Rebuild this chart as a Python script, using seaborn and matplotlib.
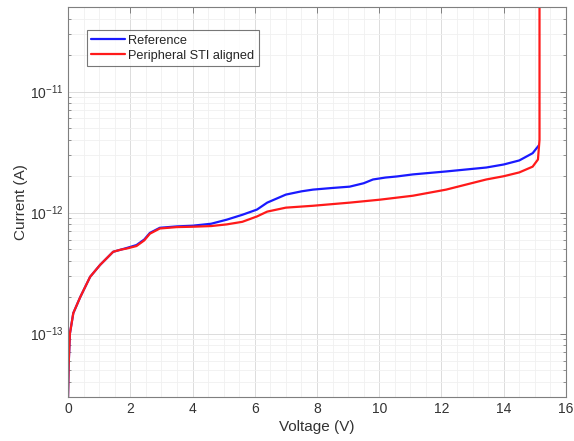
import numpy as np
import pandas as pd
import matplotlib
matplotlib.use("Agg")
import matplotlib.pyplot as plt
import seaborn as sns
from matplotlib.ticker import FixedLocator, MultipleLocator, NullFormatter

# Data
v_ref = [0.0, 0.02, 0.06, 0.17, 0.39, 0.71, 1.03, 1.45, 1.7, 1.88, 2.2, 2.45, 2.63, 2.95,
         3.5, 4.0, 4.6, 5.1, 5.6, 6.07, 6.4, 7.0, 7.5, 7.87, 8.5, 9.05, 9.5, 9.8, 10.2,
         10.56, 11.08, 12.15, 13.44, 14.0, 14.5, 14.93, 15.13]
i_ref = [3.0e-14, 5.5e-14, 1.0e-13, 1.48e-13, 2.0e-13, 2.95e-13, 3.7e-13, 4.75e-13, 4.95e-13,
         5.1e-13, 5.4e-13, 6.0e-13, 6.8e-13, 7.5e-13,
         7.7e-13, 7.8e-13, 8.1e-13, 8.75e-13, 9.6e-13, 1.06e-12, 1.21e-12, 1.41e-12, 1.5e-12,
         1.55e-12, 1.6e-12, 1.64e-12, 1.75e-12, 1.88e-12, 1.95e-12,
         1.99e-12, 2.07e-12, 2.19e-12, 2.36e-12, 2.5e-12, 2.7e-12, 3.1e-12, 3.6e-12]

v_sti = [0.0, 0.02, 0.06, 0.17, 0.39, 0.71, 1.03, 1.45, 1.7, 1.88, 2.2, 2.45, 2.63, 2.95,
         3.5, 4.0, 4.6, 5.1, 5.6, 6.07, 6.4, 7.0, 7.87, 9.05, 10.02, 11.08, 12.15, 13.44,
         14.0, 14.5, 14.93, 15.1, 15.15, 15.15]
i_sti = [3.0e-14, 5.5e-14, 1.0e-13, 1.48e-13, 2.0e-13, 2.95e-13, 3.7e-13, 4.75e-13, 4.95e-13,
         5.05e-13, 5.3e-13, 5.9e-13, 6.7e-13, 7.4e-13,
         7.6e-13, 7.65e-13, 7.75e-13, 8.0e-13, 8.4e-13, 9.3e-13, 1.02e-12, 1.1e-12, 1.14e-12,
         1.21e-12, 1.28e-12, 1.38e-12, 1.55e-12, 1.88e-12, 2.0e-12, 2.15e-12, 2.4e-12,
         2.75e-12, 4.0e-12, 1e-10]

labels = ["Reference", "Peripheral STI aligned"]
y_major = [1e-13, 1e-12, 1e-11]

df = pd.concat([
    pd.DataFrame({"Voltage": v_ref, "Current": i_ref, "Device": labels[0]}),
    pd.DataFrame({"Voltage": v_sti, "Current": i_sti, "Device": labels[1]}),
], ignore_index=True)

sns.set_style("white")
plt.rcParams["font.family"] = ["Liberation Sans", "DejaVu Sans"]

fig = plt.figure(figsize=(5.74, 4.41), dpi=100)
ax = fig.add_axes([0.1185, 0.0998, 0.8675, 0.8843])

sns.lineplot(
    data=df, x="Voltage", y="Current", hue="Device",
    palette={labels[0]: "#1a1aff", labels[1]: "#ff1a1a"},
    estimator=None, sort=False, units="Device", linewidth=1.6, ax=ax
)

ax.set_yscale("log")
ax.set_xlim(0, 16)
ax.set_ylim(3e-14, 5e-11)
ax.xaxis.set_major_locator(MultipleLocator(2))
ax.xaxis.set_minor_locator(MultipleLocator(0.5))
ax.yaxis.set_major_locator(FixedLocator(y_major))
minor = [m * d for d in [1e-14, 1e-13, 1e-12, 1e-11] for m in range(2, 10)]
minor = [m for m in minor if 3e-14 <= m <= 5e-11]
ax.yaxis.set_minor_locator(FixedLocator(minor))
ax.yaxis.set_minor_formatter(NullFormatter())

ax.grid(True, which="major", color="#dcdcdc", linewidth=0.7)
ax.grid(True, which="minor", color="#f0f0f0", linewidth=0.6)
ax.set_axisbelow(True)

for s in ax.spines.values():
    s.set_color("#7f7f7f")
    s.set_linewidth(0.8)

ax.tick_params(which="major", direction="in", length=4, top=True, right=True,
               colors="#7f7f7f", labelcolor="#333333", labelsize=10, width=0.7)
ax.tick_params(axis="y", which="minor", direction="in", length=2.5, left=True,
               right=True, colors="#7f7f7f", width=0.6)
ax.tick_params(axis="x", which="minor", length=0)

ax.set_xlabel("Voltage (V)", fontsize=11, color="#333333", labelpad=3)
ax.set_ylabel("Current (A)", fontsize=11, color="#333333", labelpad=1)

leg = ax.legend(loc="upper left", bbox_to_anchor=(0.038, 0.94), fontsize=9.2,
                frameon=True, fancybox=False, edgecolor="#555555",
                handlelength=2.6, handletextpad=0.3, borderpad=0.35,
                labelspacing=0.22, borderaxespad=0)
leg.get_frame().set_linewidth(0.8)
for line in leg.get_lines():
    line.set_linewidth(1.6)

fig.savefig("out.png", dpi=100)
